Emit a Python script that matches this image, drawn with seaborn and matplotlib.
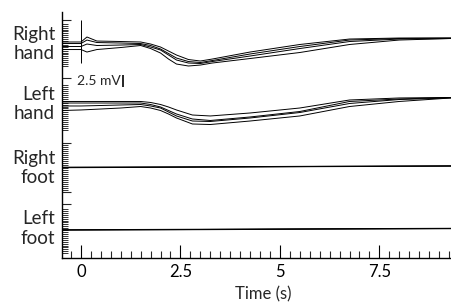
import numpy as np
import pandas as pd
import matplotlib
matplotlib.use("Agg")
import matplotlib.pyplot as plt
import matplotlib.transforms as mtransforms
import seaborn as sns

# ---------------- data (mV deviation from each channel's final baseline) -------------
channels = ["Right\nhand", "Left\nhand", "Right\nfoot", "Left\nfoot"]
channel_offsets = [45.83, 33.44, 19.17, 6.15]   # baseline level of each channel (mV on display axis)

rh_time = [-0.48, 0.0, 0.15, 0.4, 1.0, 1.5, 1.75, 2.0, 2.2, 2.4, 2.7, 3.0, 3.3, 4.25, 5.5, 6.75, 8.0, 9.3]
rh_a = [-0.83, -0.83, 0.21, -0.63, -0.73, -0.83, -1.25, -1.88, -2.71, -3.54, -4.48, -4.79, -4.38, -2.92, -1.35, -0.21, 0.0, 0.0]
rh_b = [-1.15, -1.15, -0.42, -0.94, -1.04, -1.15, -1.56, -2.29, -3.23, -4.17, -4.90, -5.10, -4.69, -3.33, -1.77, -0.42, -0.10, 0.0]
rh_c = [-1.77, -1.77, -1.25, -1.56, -1.46, -1.35, -1.88, -2.50, -3.54, -4.58, -5.21, -5.31, -4.90, -3.75, -2.19, -0.73, -0.21, -0.10]
rh_d = [-2.40, -2.40, -2.92, -2.40, -1.98, -1.56, -2.19, -3.13, -4.38, -5.42, -5.83, -5.63, -5.21, -4.27, -3.02, -1.35, -0.42, -0.10]

lh_time = [-0.48, 0.0, 0.5, 1.0, 1.5, 1.75, 2.0, 2.2, 2.4, 2.8, 3.25, 4.25, 5.5, 6.75, 8.0, 9.3]
lh_a = [-0.83, -0.83, -0.83, -0.83, -0.83, -1.04, -1.46, -1.98, -2.60, -3.65, -3.85, -3.23, -2.19, -0.52, -0.10, 0.0]
lh_b = [-1.15, -1.15, -1.15, -1.15, -1.15, -1.46, -1.98, -2.71, -3.44, -4.48, -4.79, -4.06, -2.92, -0.83, -0.31, 0.0]
lh_c = [-1.77, -1.77, -1.67, -1.56, -1.46, -1.77, -2.19, -3.02, -3.85, -4.90, -5.00, -4.27, -3.13, -1.25, -0.42, -0.10]
lh_d = [-2.71, -2.60, -2.40, -2.19, -1.88, -2.19, -2.71, -3.44, -4.27, -5.52, -5.63, -4.90, -3.85, -1.88, -0.83, -0.10]

foot_time = [-0.48, 3.0, 6.0, 9.3]
rf_a = [-0.31, -0.21, -0.10, 0.0]
rf_b = [-0.25, -0.17, -0.06, 0.04]
rf_c = [-0.36, -0.25, -0.14, -0.04]
lf_a = [-0.31, -0.21, -0.10, 0.0]
lf_b = [-0.26, -0.16, -0.05, 0.04]
lf_c = [-0.35, -0.25, -0.15, -0.05]

stim_time = 0.0
scale_bar_mv = 2.5
xtick_values = [0, 2.5, 5, 7.5]
xtick_labels = ["0", "2.5", "5", "7.5"]

# ---------------- long-form table ----------------
groups = [
    (0, rh_time, [rh_a, rh_b, rh_c, rh_d]),
    (1, lh_time, [lh_a, lh_b, lh_c, lh_d]),
    (2, foot_time, [rf_a, rf_b, rf_c]),
    (3, foot_time, [lf_a, lf_b, lf_c]),
]
rows = []
for ch, tt, traces in groups:
    for k, tr in enumerate(traces):
        for t, v in zip(tt, tr):
            rows.append({"t": t, "y": channel_offsets[ch] + v, "trace": f"{ch}-{k}"})
df = pd.DataFrame(rows)

# ---------------- figure ----------------
sns.set_style("ticks")
plt.rcParams["font.family"] = ["Lato", "DejaVu Sans"]

fig = plt.figure(figsize=(4.51, 3.06), dpi=100)
ax = fig.add_axes([62 / 451, 1 - 258 / 306, 1 - 62 / 451, (258 - 12) / 306])

sns.lineplot(data=df, x="t", y="y", units="trace", estimator=None, color="black",
             lw=0.7, sort=False, ax=ax, legend=False)

ax.set_xlim(-0.477, 9.3)
ax.set_ylim(0, 51.25)

sns.despine(ax=ax)
for s in ["left", "bottom"]:
    ax.spines[s].set_linewidth(1.0)
    ax.spines[s].set_color("black")

# x ticks
ax.set_xticks(xtick_values)
ax.set_xticklabels(xtick_labels, fontsize=12)
ax.set_xticks(np.arange(-0.25, 9.3, 0.25), minor=True)
ax.tick_params(axis="x", which="major", direction="in", length=9.5, width=0.8, pad=4, colors="black")
ax.tick_params(axis="x", which="minor", direction="in", length=5, width=0.8)
ax.set_xlabel("Time (s)", fontsize=12, labelpad=1)
ax.xaxis.set_label_coords(0.517, -0.115)

# y ticks: band boundaries + dense scale marks
ax.set_yticks([49.58, 37.5, 23.96, 13.75, 11.25])
ax.set_yticklabels([])
minor = np.concatenate([np.arange(40, 49.01, 0.4), np.arange(26.75, 36.1, 0.4),
                        np.arange(14.25, 23.6, 0.4), np.arange(1.0, 10.5, 0.4)])
ax.set_yticks(minor, minor=True)
ax.tick_params(axis="y", which="major", direction="in", length=6.5, width=0.8)
ax.tick_params(axis="y", which="minor", direction="in", length=4.3, width=0.7, color="#333333")
ax.set_ylabel("")

# channel labels
trans = mtransforms.blended_transform_factory(ax.transAxes, ax.transData)
label_centers = [44.58, 32.08, 18.75, 6.15]
for name, yc in zip(channels, label_centers):
    ax.annotate(name, xy=(0, yc), xycoords=trans, xytext=(-5, 0), textcoords="offset points",
                ha="right", va="center", fontsize=13.5, linespacing=1.15, annotation_clip=False)

# stimulus marker
ax.vlines(stim_time, 40.63, 49.58, color="black", lw=0.7)

# scale bar
ax.vlines(1.055, 35.6, 35.6 + scale_bar_mv, color="black", lw=1.2)
ax.text(1.0, 35.6 + scale_bar_mv / 2, f"{scale_bar_mv} mV", ha="right", va="center", fontsize=10)

fig.savefig("out.png", dpi=100)
